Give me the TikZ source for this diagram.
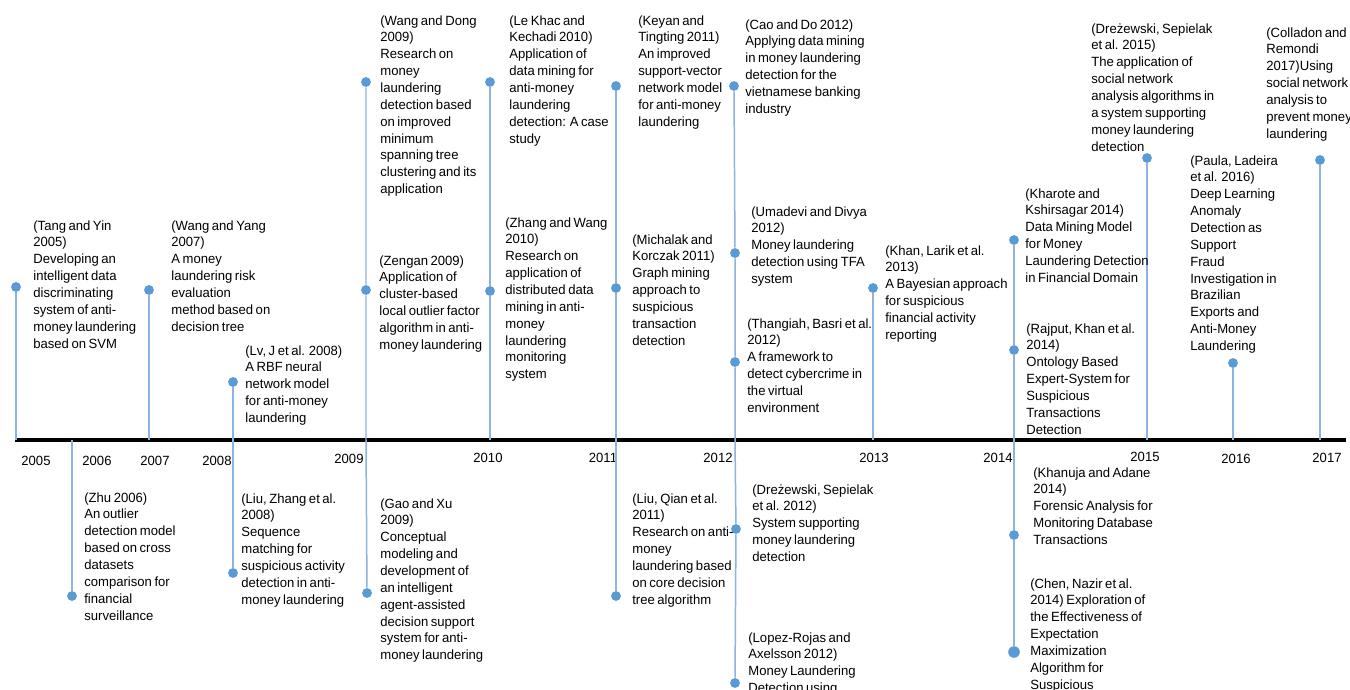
\documentclass[tikz,border=0pt]{standalone}
\usepackage{fontspec}
\setmainfont[WordSpace=0.7,FakeStretch=0.98]{Liberation Sans}
\usetikzlibrary{positioning}
\definecolor{stemblue}{HTML}{8DB3E2}
\definecolor{dotblue}{HTML}{5B9BD5}

\begin{document}
\begin{tikzpicture}[x=0.02cm,y=-0.02cm,
    dot/.style={circle,fill=dotblue,inner sep=0pt,minimum size=5.6pt},
    bigdot/.style={dot,minimum size=6.6pt},
    stem/.style={stemblue,line width=0.85pt},
    timeline/.style={black,line width=2pt},
    paper/.style={anchor=north west,inner sep=0pt,align=left,
      font=\fontsize{7.6}{9.6}\selectfont},
    yr/.style={inner sep=0pt,font=\fontsize{7.6}{9.6}\selectfont}]
      \useasboundingbox[fill=white] (0,0) rectangle (1350,690);

      % time axis and years
      \coordinate (axL) at (15,440);
      \coordinate (axR) at (1346,440);
      \draw[timeline] (axL) -- (axR);
      \node[yr] (y05) at (36,461) {2005};
      \node[yr] (y06) at (97,461) {2006};
      \node[yr] (y07) at (155,461) {2007};
      \node[yr] (y08) at (217,461) {2008};
      \node[yr] (y09) at (349,459) {2009};
      \node[yr] (y10) at (488,458) {2010};
      \node[yr] (y11) at (603,458) {2011};
      \node[yr] (y12) at (718,458) {2012};
      \node[yr] (y13) at (874,458) {2013};
      \node[yr] (y14) at (998,458) {2014};
      \node[yr] (y15) at (1145,457) {2015};
      \node[yr] (y16) at (1236,459) {2016};
      \node[yr] (y17) at (1327,458) {2017};

      \coordinate (a05) at (16,440);
      \coordinate (a06) at (72,440);
      \coordinate (a07) at (149,440);
      \coordinate (a08) at (233,440);
      \coordinate (a09) at (366,440);
      \coordinate (a10) at (490,440);
      \coordinate (a11) at (616,440);
      \coordinate (a12) at (735,440);
      \coordinate (a13) at (873,440);
      \coordinate (a14) at (1014,440);
      \coordinate (a15) at (1147,440);
      \coordinate (a16) at (1233,440);
      \coordinate (a17) at (1320,440);

      % dots
      \node[dot] (tang) at (16,287) {};
      \node[dot] (zhu) at (72,596) {};
      \node[dot] (wangyang) at (149,290) {};
      \node[dot] (lv) at (233,382) {};
      \node[dot] (liuzhang) at (233,573) {};
      \node[dot] (wangdong) at (366,82) {};
      \node[dot] (zengan) at (366,290) {};
      \node[dot] (gaoxu) at (367,593) {};
      \node[dot] (lekhac) at (490,82) {};
      \node[dot] (zhangwang) at (490,291) {};
      \node[dot] (keyan) at (616,86) {};
      \node[dot] (michalak) at (616,288) {};
      \node[dot] (liuqian) at (616,596) {};
      \node[dot] (caodo) at (734,86) {};
      \node[dot] (umadevi) at (735,253) {};
      \node[dot] (thangiah) at (735,362) {};
      \node[dot] (drez12) at (736,529) {};
      \node[dot] (lopez) at (735,683) {};
      \node[dot] (khan) at (873,288) {};
      \node[dot] (kharote) at (1014,240) {};
      \node[dot] (rajput) at (1014,350) {};
      \node[dot] (khanuja) at (1014,535) {};
      \node[bigdot] (chen) at (1014,652) {};
      \node[dot] (drez15) at (1147,158) {};
      \node[dot] (paula) at (1233,363) {};
      \node[dot] (colladon) at (1320,160) {};

      % stems
      \draw[stem] (tang) -- (a05);
      \draw[stem] (a06) -- (zhu);
      \draw[stem] (wangyang) -- (a07);
      \draw[stem] (lv) -- (a08) -- (liuzhang);
      \draw[stem] (wangdong) -- (zengan) -- (a09) -- (gaoxu);
      \draw[stem] (lekhac) -- (zhangwang) -- (a10);
      \draw[stem] (keyan) -- (michalak) -- (a11) -- (liuqian);
      \draw[stem] (caodo) -- (umadevi) -- (thangiah) -- (a12) -- (drez12) -- (lopez);
      \draw[stem] (khan) -- (a13);
      \draw[stem] (kharote) -- (rajput) -- (a14) -- (khanuja) -- (chen);
      \draw[stem] (drez15) -- (a15);
      \draw[stem] (paula) -- (a16);
      \draw[stem] (colladon) -- (a17);

      % papers above the axis
      \node[paper] (tangT) at (33,220) {(Tang and Yin\\2005)\\Developing an\\intelligent data\\discriminating\\system of anti-\\money laundering\\based on SVM};
      \node[paper] (wangyangT) at (171,220) {(Wang and Yang\\2007)\\A money\\laundering risk\\evaluation\\method based on\\decision tree};
      \node[paper] (lvT) at (245,345) {(Lv, J et al. 2008)\\A RBF neural\\network model\\for anti-money\\laundering};
      \node[paper] (wangdongT) at (380,15) {(Wang and Dong\\2009)\\Research on\\money\\laundering\\detection based\\on improved\\minimum\\spanning tree\\clustering and its\\application};
      \node[paper] (zenganT) at (379,255) {(Zengan 2009)\\Application of\\cluster-based\\local outlier factor\\algorithm in anti-\\money laundering};
      \node[paper] (lekhacT) at (509,15) {(Le Khac and\\Kechadi 2010)\\Application of\\data mining for\\anti-money\\laundering\\detection: A case\\study};
      \node[paper] (zhangwangT) at (505,217) {(Zhang and Wang\\2010)\\Research on\\application of\\distributed data\\mining in anti-\\money\\laundering\\monitoring\\system};
      \node[paper] (keyanT) at (638,15) {(Keyan and\\Tingting 2011)\\An improved\\support-vector\\network model\\for anti-money\\laundering};
      \node[paper] (michalakT) at (632,234) {(Michalak and\\Korczak 2011)\\Graph mining\\approach to\\suspicious\\transaction\\detection};
      \node[paper] (caodoT) at (745,19) {(Cao and Do 2012)\\Applying data mining\\in money laundering\\detection for the\\vietnamese banking\\industry};
      \node[paper] (umadeviT) at (751,206) {(Umadevi and Divya\\2012)\\Money laundering\\detection using TFA\\system};
      \node[paper] (thangiahT) at (747,318) {(Thangiah, Basri et al.\\2012)\\A framework to\\detect cybercrime in\\the virtual\\environment};
      \node[paper] (khanT) at (885,245) {(Khan, Larik et al.\\2013)\\A Bayesian approach\\for suspicious\\financial activity\\reporting};
      \node[paper] (kharoteT) at (1025,188) {(Kharote and\\Kshirsagar 2014)\\Data Mining Model\\for Money\\Laundering Detection\\in Financial Domain};
      \node[paper] (rajputT) at (1026,323) {(Rajput, Khan et al.\\2014)\\Ontology Based\\Expert-System for\\Suspicious\\Transactions\\Detection};
      \node[paper] (drez15T) at (1091,23) {(Dreżewski, Sepielak\\et al. 2015)\\The application of\\social network\\analysis algorithms in\\a system supporting\\money laundering\\detection};
      \node[paper] (paulaT) at (1190,155) {(Paula, Ladeira\\et al. 2016)\\Deep Learning\\Anomaly\\Detection as\\Support\\Fraud\\Investigation in\\Brazilian\\Exports and\\Anti-Money\\Laundering};
      \node[paper] (colladonT) at (1266,27) {(Colladon and\\Remondi\\2017)Using\\social network\\analysis to\\prevent money\\laundering};

      % papers below the axis
      \node[paper] (zhuT) at (84,492) {(Zhu 2006)\\An outlier\\detection model\\based on cross\\datasets\\comparison for\\financial\\surveillance};
      \node[paper] (liuzhangT) at (241,493) {(Liu, Zhang et al.\\2008)\\Sequence\\matching for\\suspicious activity\\detection in anti-\\money laundering};
      \node[paper] (gaoxuT) at (380,498) {(Gao and Xu\\2009)\\Conceptual\\modeling and\\development of\\an intelligent\\agent-assisted\\decision support\\system for anti-\\money laundering};
      \node[paper] (liuqianT) at (632,493) {(Liu, Qian et al.\\2011)\\Research on anti-\\money\\laundering based\\on core decision\\tree algorithm};
      \node[paper] (drez12T) at (752,484) {(Dreżewski, Sepielak\\et al. 2012)\\System supporting\\money laundering\\detection};
      \node[paper] (lopezT) at (748,632) {(Lopez-Rojas and\\Axelsson 2012)\\Money Laundering\\Detection using};
      \node[paper] (khanujaT) at (1033,467) {(Khanuja and Adane\\2014)\\Forensic Analysis for\\Monitoring Database\\Transactions};
      \node[paper] (chenT) at (1030,578) {(Chen, Nazir et al.\\2014) Exploration of\\the Effectiveness of\\Expectation\\Maximization\\Algorithm for\\Suspicious};
\end{tikzpicture}
\end{document}
